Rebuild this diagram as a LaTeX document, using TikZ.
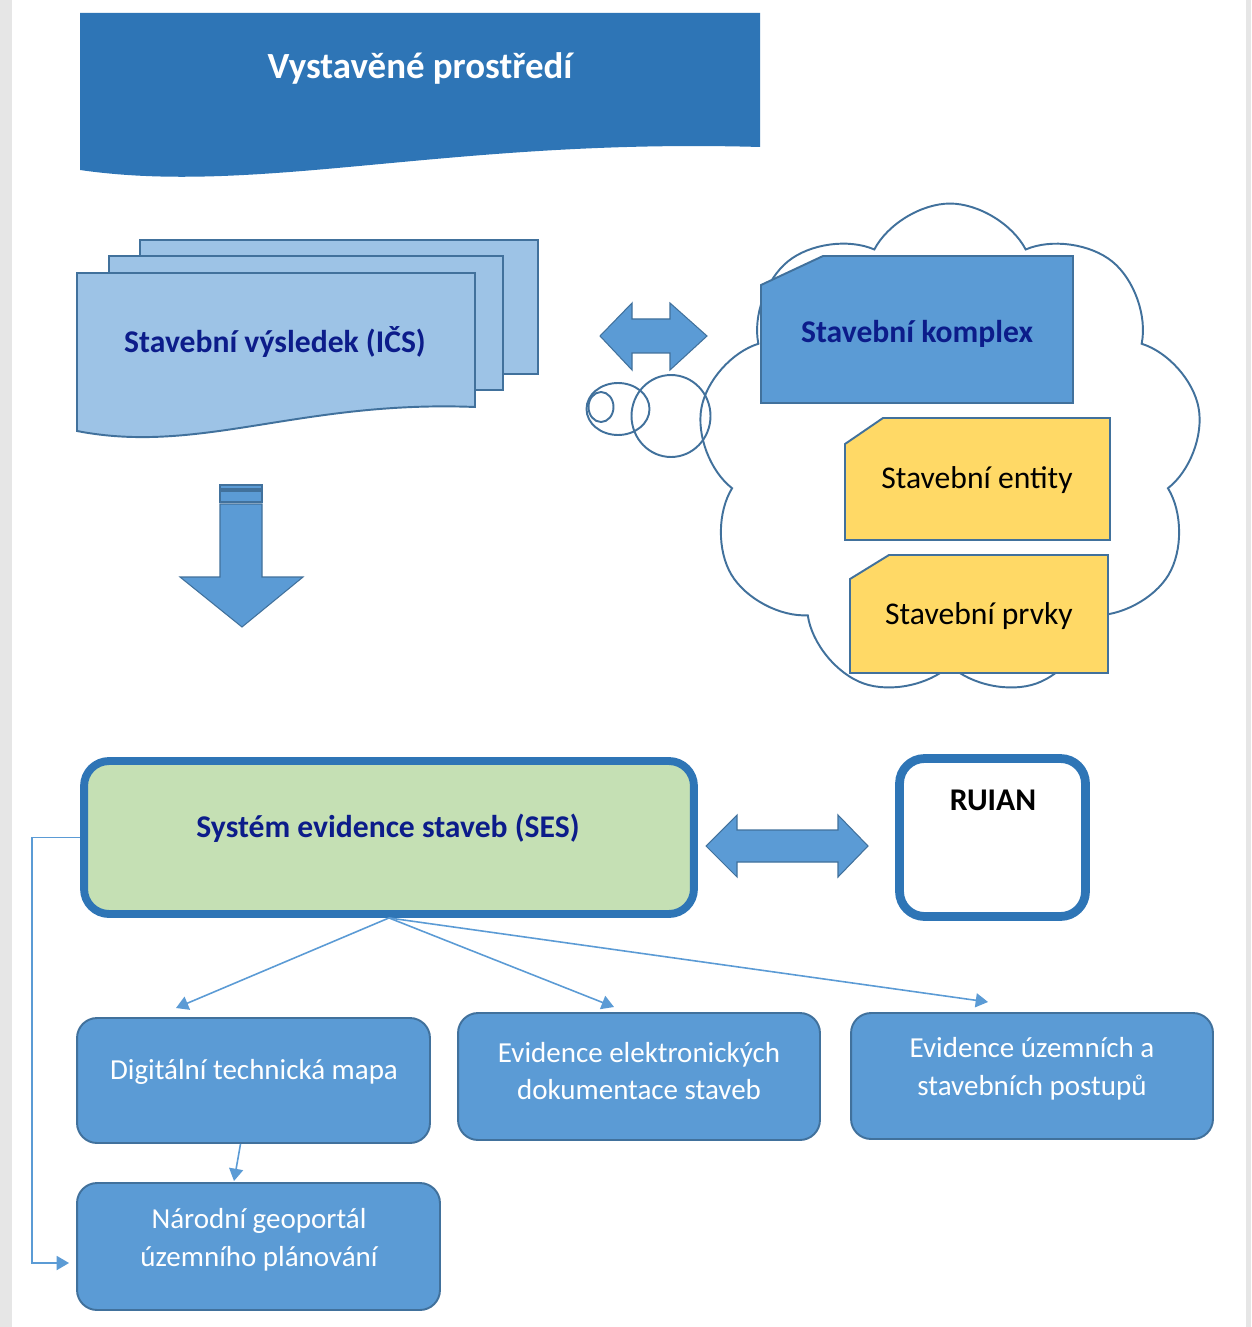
\documentclass[tikz,border=0pt]{standalone}
\usepackage{fontspec}
\setmainfont{Carlito}
\usetikzlibrary{shapes.symbols,shapes.geometric,arrows.meta}
\definecolor{banner}{HTML}{2E75B6}
\definecolor{docfill}{HTML}{9DC3E6}
\definecolor{edge}{HTML}{41719C}
\definecolor{mid}{HTML}{5B9BD5}
\definecolor{yel}{HTML}{FFD966}
\definecolor{sesfill}{HTML}{C5E0B4}
\definecolor{navy}{HTML}{0C1C8A}
\definecolor{greyside}{HTML}{E6E6E6}
\begin{document}
\begin{tikzpicture}[x=0.02cm,y=-0.02cm,
  titletxt/.style={font=\fontsize{21}{25}\selectfont\bfseries, text=white, inner sep=0},
  bigtxt/.style={font=\fontsize{18}{22}\selectfont\bfseries, text=navy, inner sep=0},
  yeltxt/.style={font=\fontsize{18}{22}\selectfont, text=black, inner sep=0},
  boxtxt/.style={font=\fontsize{16.5}{21.5}\selectfont, text=white, align=center, inner sep=0},
  docpage/.style={fill=docfill, draw=edge, line width=1.1pt},
  snipbox/.style={draw=edge, line width=1.1pt},
  blockarrow/.style={fill=mid, draw=edge, line width=0.6pt},
  bubble/.style={ellipse, draw=edge, line width=1.1pt, inner sep=0},
  bottombox/.style={rectangle, rounded corners=0.4cm, fill=mid, draw=edge, line width=1.1pt, inner sep=0},
  conn/.style={draw=mid, line width=0.9pt, -{Triangle[length=7pt,width=8pt]}}
]
\useasboundingbox (0,0) rectangle (1251,1327);
\fill[white] (0,0) rectangle (1251,1327);
\fill[greyside] (0,0) rectangle (12,1327);
\fill[greyside] (1246,0) rectangle (1251,1327);

% title banner
\fill[banner] (80,13) -- (760,13) -- (760,147) .. controls (450,138) and (260,196) .. (80,170) -- cycle;
\node[titletxt] (title) at (420,68) {Vystavěné prostředí};

% stacked documents
\filldraw[docpage] (140,240) rectangle (538,374);
\filldraw[docpage] (109,256) rectangle (503,390);
\filldraw[docpage] (77,273) -- (475,273) -- (475,407) .. controls (300,400) and (200,455) .. (77,431) -- cycle;
\node[bigtxt] (vysl) at (275,342) {Stavební výsledek (IČS)};

% down block arrow
\filldraw[blockarrow] (220,504) -- (262,504) -- (262,577) -- (303,577) -- (242,627) -- (180,577) -- (220,577) -- cycle;
\filldraw[blockarrow] (220,491) rectangle (262,502);
\filldraw[blockarrow] (220,485) rectangle (262,489);

% top double arrow
\filldraw[blockarrow] (600,336) -- (632,303) -- (632,319) -- (670,319) -- (670,303) -- (707,336) -- (670,370) -- (670,353) -- (632,353) -- (632,370) -- cycle;

% cloud and thought bubbles
\node[cloud, draw=edge, line width=1.1pt, cloud puffs=9, cloud puff arc=125, aspect=1,
      shape border rotate=10,
      minimum width=10.1cm, minimum height=9.9cm, inner sep=0] (cloud) at (950,451) {};
\node[bubble, minimum width=0.5cm, minimum height=0.6cm] (bub1) at (601,407) {};
\node[bubble, minimum width=1.26cm, minimum height=1.04cm] (bub2) at (618,409) {};
\node[bubble, minimum width=1.58cm, minimum height=1.64cm] (bub3) at (671,416) {};

% snipped boxes
\filldraw[snipbox, fill=mid] (761,403) -- (761,285) -- (823,256) -- (1073,256) -- (1073,403) -- cycle;
\node[bigtxt] (komplex) at (917,334) {Stavební komplex};
\filldraw[snipbox, fill=yel] (845,540) -- (845,444) -- (883,418) -- (1110,418) -- (1110,540) -- cycle;
\node[yeltxt] (entity) at (977,480) {Stavební entity};
\filldraw[snipbox, fill=yel] (850,673) -- (850,579) -- (889,555) -- (1108,555) -- (1108,673) -- cycle;
\node[yeltxt] (prvky) at (979,616) {Stavební prvky};

% SES and RUIAN
\node[rectangle, draw=banner, line width=4.5pt, fill=sesfill, rounded corners=0.5cm,
      minimum width=12.2cm, minimum height=3.06cm, inner sep=0] (ses) at (389,837.5) {};
\node[bigtxt] (sestxt) at (388,828) {Systém evidence staveb (SES)};
\node[rectangle, draw=banner, line width=5pt, fill=white, rounded corners=0.5cm,
      minimum width=3.72cm, minimum height=3.16cm, inner sep=0] (ruian) at (992.5,837.5) {};
\node[font=\fontsize{18}{22}\selectfont\bfseries, text=black, inner sep=0] (ruiantxt) at (993,800) {RUIAN};

% middle double arrow
\filldraw[blockarrow] (706,846) -- (737,815) -- (737,830) -- (838,830) -- (838,815) -- (868,846) -- (838,877) -- (838,862) -- (737,862) -- (737,877) -- cycle;

% bottom boxes
\node[bottombox, minimum width=7.06cm, minimum height=2.5cm] (b1) at (253.5,1080.5) {};
\node[boxtxt] (b1t) at (254,1072) {Digitální technická mapa};
\node[bottombox, minimum width=7.24cm, minimum height=2.54cm] (b2) at (639,1076.5) {};
\node[boxtxt] (b2t) at (639,1071) {Evidence elektronických\\dokumentace staveb};
\node[bottombox, minimum width=7.24cm, minimum height=2.52cm] (b3) at (1032,1076) {};
\node[boxtxt] (b3t) at (1032,1069) {Evidence územních a\\stavebních postupů};
\node[bottombox, minimum width=7.26cm, minimum height=2.54cm] (b4) at (258.5,1246.5) {};
\node[boxtxt] (b4t) at (259,1240) {Národní geoportál\\územního plánování};

% connectors
\coordinate (t1) at (176,1008);
\coordinate (t2) at (614,1007);
\coordinate (t3) at (988,1002);
\coordinate (t4) at (234,1181);
\coordinate (t5) at (69,1263);
\draw[conn] (ses.south) -- (t1);
\draw[conn] (ses.south) -- (t2);
\draw[conn] (ses.south) -- (t3);
\draw[conn] ([xshift=-0.26cm]b1.south) -- (t4);
\draw[conn] (ses.west) -- ++(-48,0) |- (t5);
\end{tikzpicture}
\end{document}
